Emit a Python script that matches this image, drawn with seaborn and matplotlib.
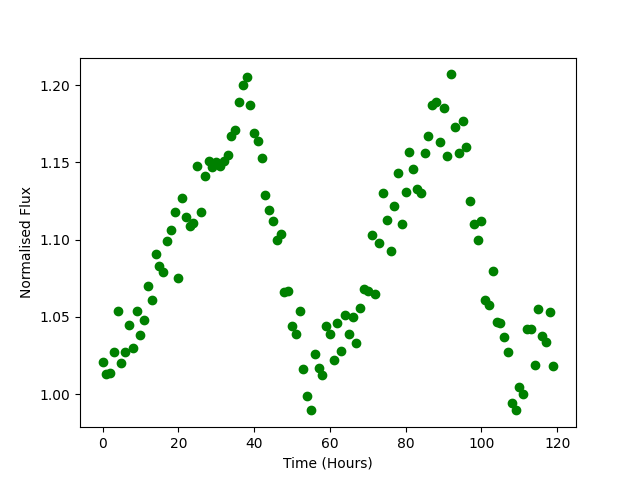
import numpy as np
import pandas as pd
import matplotlib
matplotlib.use('Agg')
import matplotlib.pyplot as plt
import seaborn as sns

# hourly samples, flux
time_hours = np.arange(120)
flux = [
    1.021, 1.013, 1.014, 1.027, 1.054, 1.020, 1.027, 1.045, 1.030, 1.054,
    1.038, 1.048, 1.070, 1.061, 1.091, 1.083, 1.079, 1.099, 1.106, 1.118,
    1.075, 1.127, 1.115, 1.109, 1.111, 1.148, 1.118, 1.141, 1.151, 1.147,
    1.150, 1.148, 1.151, 1.155, 1.167, 1.171, 1.189, 1.200, 1.205, 1.187,
    1.169, 1.164, 1.153, 1.129, 1.119, 1.112, 1.100, 1.104, 1.066, 1.067,
    1.044, 1.039, 1.054, 1.016, 0.9985, 0.9895, 1.026, 1.017, 1.0125, 1.044,
    1.039, 1.022, 1.046, 1.028, 1.051, 1.039, 1.050, 1.033, 1.056, 1.068,
    1.067, 1.103, 1.065, 1.098, 1.130, 1.113, 1.093, 1.122, 1.143, 1.110,
    1.131, 1.157, 1.146, 1.133, 1.130, 1.156, 1.167, 1.187, 1.189, 1.163,
    1.185, 1.154, 1.207, 1.173, 1.156, 1.177, 1.160, 1.125, 1.110, 1.100,
    1.112, 1.061, 1.058, 1.080, 1.047, 1.046, 1.037, 1.027, 0.994, 0.990,
    1.0045, 1.000, 1.0425, 1.0425, 1.019, 1.055, 1.0375, 1.034, 1.053, 1.0185,
]

df = pd.DataFrame({'t': time_hours, 'flux': flux})

fig, ax = plt.subplots(figsize=(6.4, 4.8), dpi=100)
sns.scatterplot(data=df, x='t', y='flux', ax=ax, color='green',
                edgecolor='green', linewidth=1, s=36)
ax.set_xlabel('Time (Hours)')
ax.set_ylabel('Normalised Flux')
plt.savefig('out.png')
